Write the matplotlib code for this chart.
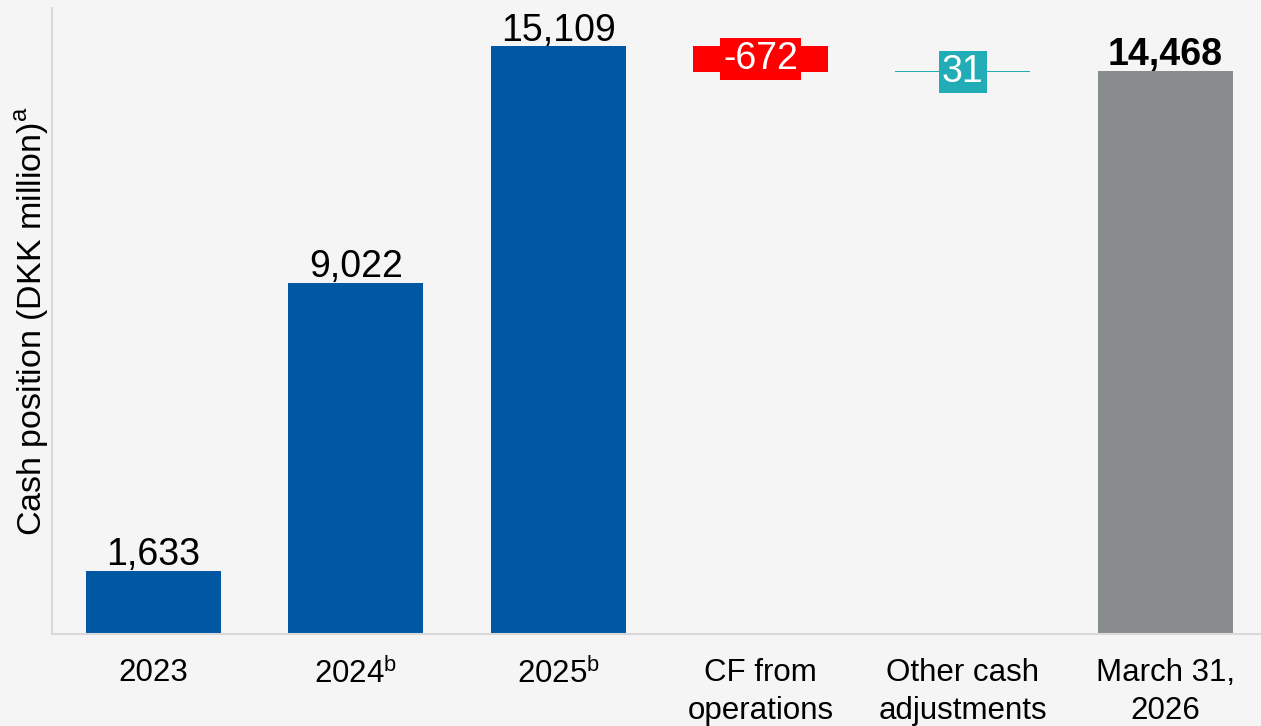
import matplotlib.pyplot as plt
import numpy as np

plt.rcParams['font.family'] = ['Liberation Sans', 'DejaVu Sans']
plt.rcParams['mathtext.fontset'] = 'custom'
plt.rcParams['mathtext.rm'] = 'Liberation Sans'

categories = ['2023', '2024$^\\mathregular{b}$', '2025$^\\mathregular{b}$',
              'CF from\noperations', 'Other cash\nadjustments', 'March 31,\n2026']
values = [1633, 9022, 15109, -672, 31, 14468]
kinds = ['total', 'total', 'total', 'delta', 'delta', 'total']
labels = ['1,633', '9,022', '15,109', '-672', '31', '14,468']

blue = '#0057a2'
red = '#ff0000'
teal = '#22adb6'
grey = '#898c8c'
bg = '#f5f5f5'

fig = plt.figure(figsize=(12.61, 7.26), dpi=100, facecolor=bg)
ax = fig.add_axes([0.0416, 0.1267, 0.9627, 0.862], facecolor=bg)

x = np.arange(len(categories))
running = 0
for i, (v, k) in enumerate(zip(values, kinds)):
    if k == 'total':
        color = grey if i == len(values) - 1 else blue
        ax.bar(x[i], v, width=0.667, color=color, zorder=2)
        running = v
        weight = 'bold' if i == len(values) - 1 else 'normal'
        ax.text(x[i], v + 150, labels[i], ha='center', va='baseline',
                fontsize=27, fontweight=weight, color='black')
    else:
        bottom = running + min(v, 0)
        color = red if v < 0 else teal
        ax.bar(x[i], abs(v), bottom=bottom, width=0.667, color=color, zorder=2)
        mid = bottom + abs(v) / 2
        ax.text(x[i], mid, labels[i], ha='center', va='center', fontsize=27,
                color='white', zorder=3,
                bbox=dict(boxstyle='square,pad=0.08', fc=color, ec='none'))
        running += v

ax.set_xlim(-0.5, 5.5)
ax.set_ylim(0, 16090)
ax.set_xticks(x)
ax.set_xticklabels(categories, fontsize=22.5, linespacing=1.35)
ax.tick_params(axis='x', length=0, pad=17)
ax.set_yticks([])
ax.set_ylabel('Cash position (DKK million)$^\\mathregular{a}$', fontsize=24.5, labelpad=1)

for s in ['top', 'right']:
    ax.spines[s].set_visible(False)
for s in ['left', 'bottom']:
    ax.spines[s].set_color('#d9d9d9')
    ax.spines[s].set_linewidth(1.5)

fig.savefig('out.png', dpi=100, facecolor=bg)
